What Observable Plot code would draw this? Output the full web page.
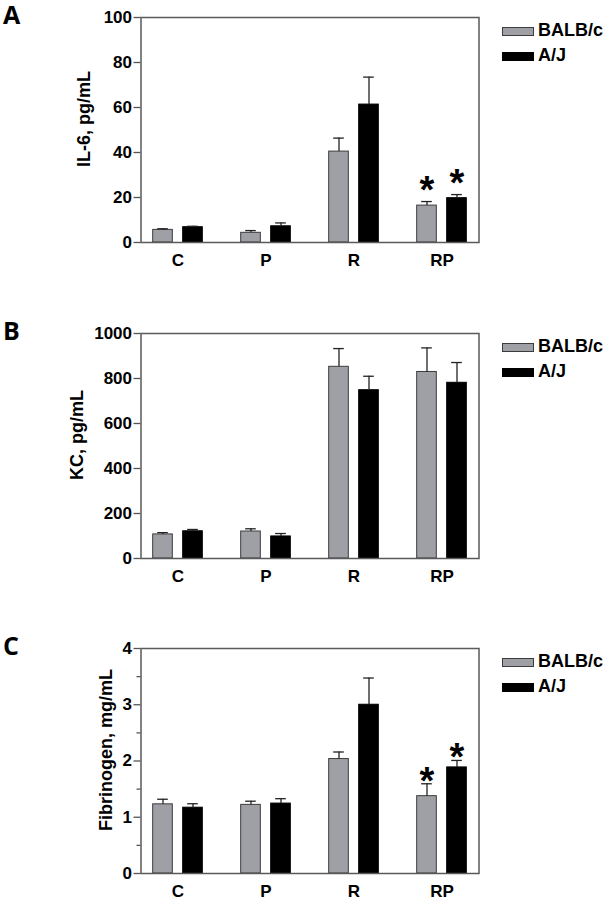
<!DOCTYPE html>
<html>
<head>
<meta charset="utf-8">
<script src="https://cdn.jsdelivr.net/npm/d3@7"></script>
<script src="https://cdn.jsdelivr.net/npm/@observablehq/plot@0.6"></script>
<style>
  html, body { margin: 0; padding: 0; background: #fff; }
  body { width: 611px; height: 899px; overflow: hidden; font-family: "Liberation Sans", Arial, sans-serif; }
  .panel { position: relative; width: 611px; }
  .panel svg { display: block; }
  .letter { position: absolute; left: 3px; top: 2px; font: 700 25px/25px "Open Sans", sans-serif; color: #000; }
  .sw { position: absolute; left: 502px; width: 32px; height: 9px; box-sizing: border-box; border: 1px solid #3c3c3c; }
  .lt { position: absolute; left: 538px; font: 700 18px/18px "Liberation Sans", Arial, sans-serif; color: #000; white-space: nowrap; }
</style>
</head>
<body>
<div id="root"></div>
<script>
// ---- data ----
const groups = ["C", "P", "R", "RP"];
const strains = ["BALB/c", "A/J"];
const strainColors = ["#9fa0a5", "#000000"];

const il6Balb = [5.6, 4.3, 40.4, 16.4];
const il6BalbSem = [0.5, 1.0, 6.0, 1.8];
const il6Aj = [6.8, 7.2, 61.3, 19.7];
const il6AjSem = [0.4, 1.5, 12.2, 1.6];
const il6Sig = ["", "", "", "*"];
const il6Ticks = [0, 20, 40, 60, 80, 100];

const kcBalb = [107, 120, 852, 829];
const kcBalbSem = [8, 12, 81, 107];
const kcAj = [121, 98, 748, 781];
const kcAjSem = [8, 13, 62, 90];
const kcSig = ["", "", "", ""];
const kcTicks = [0, 200, 400, 600, 800, 1000];

const fibBalb = [1.23, 1.22, 2.035, 1.375];
const fibBalbSem = [0.09, 0.065, 0.125, 0.22];
const fibAj = [1.17, 1.243, 3.0, 1.886];
const fibAjSem = [0.07, 0.087, 0.475, 0.124];
const fibSig = ["", "", "", "*"];
const fibTicks = [0, 1, 2, 3, 4];
const fibMinorTicks = [0.5, 1.5, 2.5, 3.5];

const panels = [
  {letter: "A", label: "IL-6, pg/mL", ticks: il6Ticks, minor: null,
   series: [[il6Balb, il6BalbSem, il6Sig], [il6Aj, il6AjSem, il6Sig]],
   labelDx: -63.5, starDy: 1, divHeight: 316},
  {letter: "B", label: "KC, pg/mL", ticks: kcTicks, minor: null,
   series: [[kcBalb, kcBalbSem, kcSig], [kcAj, kcAjSem, kcSig]],
   labelDx: -71, starDy: 1, divHeight: 315},
  {letter: "C", label: "Fibrinogen, mg/mL", ticks: fibTicks, minor: fibMinorTicks,
   series: [[fibBalb, fibBalbSem, fibSig], [fibAj, fibAjSem, fibSig]],
   labelDx: -41.5, starDy: 10, divHeight: 268}
];

// ---- layout ----
const W = 611, mL = 140.5, mR = 132.5, mT = 17, mB = 28, innerH = 225;
const pIn = 0.4, pOut = 0.1;
const step = (W - mL - mR) / (groups.length - pIn + 2 * pOut);
const bandW = step * (1 - pIn);
const barW = 20, capW = 11, dodge = 15;
const barInset = (bandW - barW) / 2;
const capInset = (bandW - capW) / 2;
const offsets = [-dodge, dodge];
const tickLen = 7, tickPad = 2;

const root = document.getElementById("root");

for (const p of panels) {
  const div = document.createElement("div");
  div.className = "panel";
  div.style.height = p.divHeight + "px";

  const marks = [];
  // y tick marks (no text) and y tick labels as text marks
  marks.push(Plot.axisY({ticks: p.ticks, tickSize: tickLen, tickFormat: () => "", label: null, stroke: "#555", strokeWidth: 1.3}));
  if (p.minor) marks.push(Plot.axisY({ticks: p.minor, tickSize: 4, tickFormat: () => "", label: null, stroke: "#555", strokeWidth: 1.3}));
  marks.push(Plot.text(p.ticks, {y: d => d, frameAnchor: "left", textAnchor: "end", dx: -(tickLen + tickPad),
    text: d => String(d), fontSize: 17, fontWeight: "bold", fill: "#000"}));
  // x tick labels
  marks.push(Plot.text(groups, {x: d => d, frameAnchor: "bottom", lineAnchor: "top", dy: 11,
    text: d => d, fontSize: 17, fontWeight: "bold", fill: "#000"}));
  // y axis title
  marks.push(Plot.text([p.label], {frameAnchor: "left", rotate: -90, textAnchor: "middle", lineAnchor: "top",
    dx: p.labelDx, dy: -11, fontSize: 18, fontWeight: "bold", fill: "#000"}));

  p.series.forEach(([means, sems, sig], si) => {
    const rows = groups.map((g, gi) => ({group: g, strain: strains[si], mean: means[gi], sem: sems[gi], sig: sig[gi]}));
    marks.push(Plot.barY(rows, {x: "group", y: "mean", fill: strainColors[si], stroke: si === 0 ? "#3c3c3c" : "#000",
      strokeWidth: 1, insetLeft: barInset, insetRight: barInset, dx: offsets[si]}));
    marks.push(Plot.ruleX(rows, {x: "group", y1: "mean", y2: d => d.mean + d.sem, stroke: "#222", strokeWidth: 1.3, dx: offsets[si]}));
    marks.push(Plot.tickY(rows, {x: "group", y: d => d.mean + d.sem, stroke: "#222", strokeWidth: 1.3,
      insetLeft: capInset, insetRight: capInset, dx: offsets[si]}));
    marks.push(Plot.text(rows.filter(d => d.sig), {x: "group", y: d => d.mean + d.sem, text: "sig", dx: offsets[si],
      dy: p.starDy, lineAnchor: "bottom", fontSize: 38, fontWeight: "bold", fill: "#000"}));
  });
  marks.push(Plot.frame({stroke: "#5a5a5a", strokeWidth: 1.5}));

  const chart = Plot.plot({
    width: W, height: mT + innerH + mB,
    marginTop: mT, marginBottom: mB, marginLeft: mL, marginRight: mR,
    style: {fontFamily: '"Liberation Sans", Arial, sans-serif', fontWeight: "bold", fontSize: "17px", color: "#000", background: "transparent", overflow: "visible"},
    x: {type: "band", domain: groups, paddingInner: pIn, paddingOuter: pOut, axis: null},
    y: {domain: [0, p.ticks[p.ticks.length - 1]], axis: null},
    marks
  });
  div.appendChild(chart);

  const letter = document.createElement("div");
  letter.className = "letter";
  letter.textContent = p.letter;
  div.appendChild(letter);

  strains.forEach((s, si) => {
    const sw = document.createElement("div");
    sw.className = "sw";
    sw.style.top = (27 + si * 25) + "px";
    sw.style.background = strainColors[si];
    if (si === 1) sw.style.borderColor = "#000";
    div.appendChild(sw);
    const t = document.createElement("div");
    t.className = "lt";
    t.style.top = (20.8 + si * 24.7) + "px";
    t.textContent = s;
    div.appendChild(t);
  });

  root.appendChild(div);
}
</script>
</body>
</html>
